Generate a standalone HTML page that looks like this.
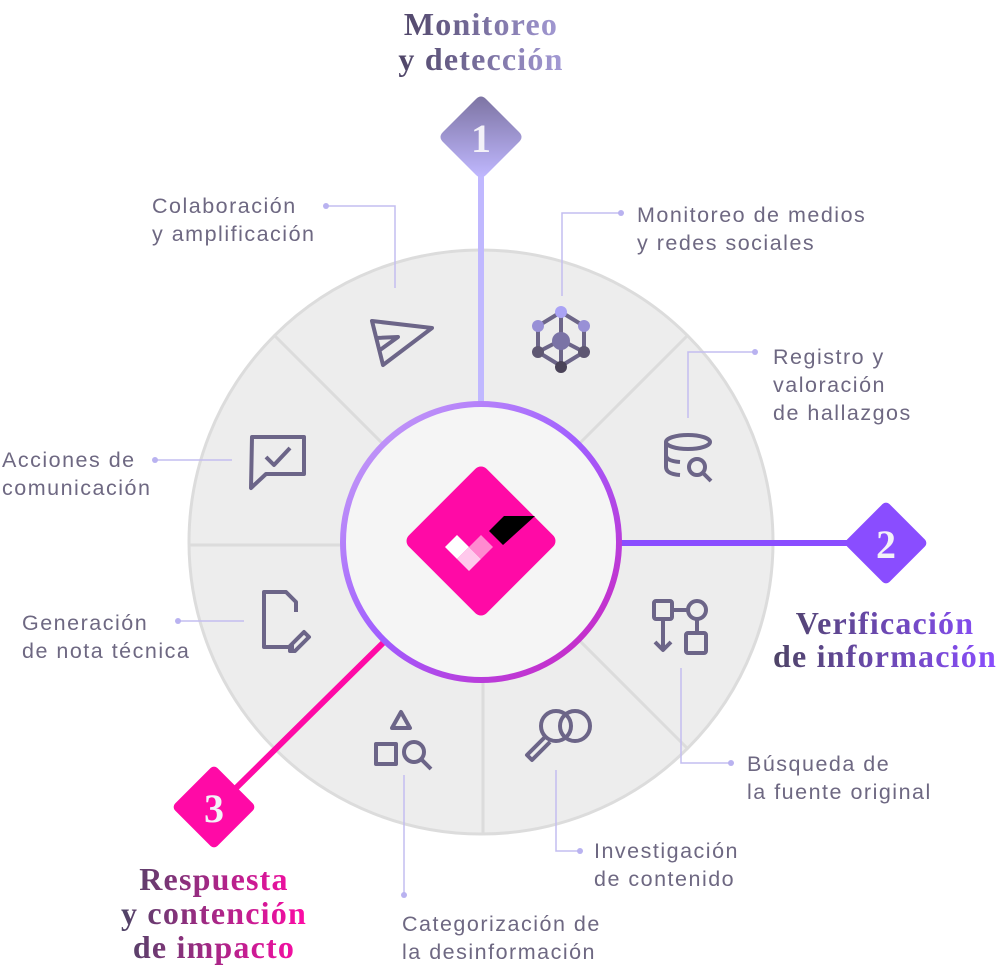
<!DOCTYPE html>
<html><head><meta charset="utf-8"><style>
html,body{margin:0;padding:0;background:#fff;width:1002px;height:966px;overflow:hidden}
svg{display:block}
.l{font-family:"Liberation Sans",sans-serif;font-size:21.5px;letter-spacing:1.5px;fill:#6e6882}
.t{font-family:"Liberation Serif",serif;font-size:32px;font-weight:bold;letter-spacing:1.2px}
</style></head><body>
<svg width="1002" height="966" viewBox="0 0 1002 966" xmlns="http://www.w3.org/2000/svg">
<defs>
<linearGradient id="ring" x1="0" y1="0" x2="1" y2="1">
<stop offset="0" stop-color="#c9a6f5"/><stop offset="0.5" stop-color="#a05cff"/><stop offset="1" stop-color="#d21fb8"/></linearGradient>
<linearGradient id="d1" x1="0" y1="0" x2="0" y2="1">
<stop offset="0" stop-color="#7d74a3"/><stop offset="1" stop-color="#c0b8ff"/></linearGradient>
<linearGradient id="t1" x1="0" y1="0" x2="1" y2="0">
<stop offset="0" stop-color="#4e4466"/><stop offset="1" stop-color="#a49bd6"/></linearGradient>
<linearGradient id="t2" x1="0" y1="0" x2="1" y2="0">
<stop offset="0" stop-color="#4e4466"/><stop offset="1" stop-color="#8a4dff"/></linearGradient>
<linearGradient id="t3" x1="0" y1="0" x2="1" y2="0">
<stop offset="0" stop-color="#4e4466"/><stop offset="1" stop-color="#ff0aa6"/></linearGradient>
</defs>

<circle cx="481" cy="542" r="292" fill="#ededed" stroke="#dcdcdc" stroke-width="3"/>
<g stroke="#dcdcdc" stroke-width="3">
<line x1="274" y1="335" x2="400" y2="461"/>
<line x1="688" y1="335" x2="562" y2="461"/>
<line x1="189" y1="545" x2="345" y2="545"/>
<line x1="483" y1="680" x2="483" y2="834"/>
<line x1="562" y1="623" x2="688" y2="749"/>
</g>

<line x1="481" y1="150" x2="481" y2="405" stroke="#c0b8ff" stroke-width="6"/>
<line x1="615" y1="543" x2="860" y2="543" stroke="#8a4dff" stroke-width="6"/>
<line x1="388" y1="638" x2="232" y2="792" stroke="#ff0aa6" stroke-width="6"/>

<circle cx="481" cy="542" r="138" fill="#f5f5f5" stroke="url(#ring)" stroke-width="6"/>

<g transform="translate(481,541) rotate(45)">
<rect x="-55" y="-55" width="110" height="110" rx="8" fill="#ff0aa6"/>
</g>
<polygon points="445,547 457,535 469,547 457,559" fill="#fff"/>
<polygon points="457,559 469,547 481,559 469,571" fill="#ffc9ec"/>
<polygon points="469,547 481,535 493,547 481,559" fill="#ff8ad0"/>
<polygon points="489,531 504,516 535,516 503,545" fill="#000"/>

<path d="M476,99 Q481,94 486,99 L519,132 Q524,137 519,142 L486,175 Q481,180 476,175 L443,142 Q438,137 443,132 Z" fill="url(#d1)"/>
<text x="481" y="152" text-anchor="middle" font-family="Liberation Serif,serif" font-weight="bold" font-size="40" fill="#f3f1f8">1</text>
<g transform="translate(886,543) rotate(45)"><rect x="-30" y="-30" width="60" height="60" rx="5" fill="#8a4dff"/></g>
<text x="886" y="558" text-anchor="middle" font-family="Liberation Serif,serif" font-weight="bold" font-size="40" fill="#f3f1f8">2</text>
<g transform="translate(214,807) rotate(45)"><rect x="-30" y="-30" width="60" height="60" rx="5" fill="#ff0aa6"/></g>
<text x="214" y="822" text-anchor="middle" font-family="Liberation Serif,serif" font-weight="bold" font-size="40" fill="#f3f1f8">3</text>

<text class="t" fill="url(#t1)" text-anchor="middle"><tspan x="481" y="35">Monitoreo</tspan><tspan x="481" y="70">y detección</tspan></text>
<text class="t" fill="url(#t2)" text-anchor="middle"><tspan x="885" y="634">Verificación</tspan><tspan x="885" y="667">de información</tspan></text>
<text class="t" fill="url(#t3)" text-anchor="middle"><tspan x="214" y="890">Respuesta</tspan><tspan x="214" y="924">y contención</tspan><tspan x="214" y="958">de impacto</tspan></text>

<g fill="none" stroke="#c3bdf0" stroke-width="1.5">
<polyline points="326,206 395,206 395,288"/>
<polyline points="621,213 562,213 562,296"/>
<polyline points="755,352 688,352 688,418"/>
<polyline points="155,460 232,460"/>
<polyline points="178,621 244,621"/>
<polyline points="731,763 681,763 681,668"/>
<polyline points="580,851 556,851 556,770"/>
<polyline points="404,895 404,775"/>
</g>
<g fill="#b9b2f0">
<circle cx="326" cy="206" r="3"/><circle cx="621" cy="213" r="3"/><circle cx="755" cy="352" r="3"/>
<circle cx="155" cy="460" r="3"/><circle cx="178" cy="621" r="3"/><circle cx="731" cy="763" r="3"/>
<circle cx="580" cy="851" r="3"/><circle cx="404" cy="895" r="3"/>
</g>

<text class="l"><tspan x="152" y="213">Colaboración</tspan><tspan x="152" y="241">y amplificación</tspan></text>
<text class="l"><tspan x="637" y="222">Monitoreo de medios</tspan><tspan x="637" y="250">y redes sociales</tspan></text>
<text class="l"><tspan x="773" y="364">Registro y</tspan><tspan x="773" y="392">valoración</tspan><tspan x="773" y="420">de hallazgos</tspan></text>
<text class="l"><tspan x="2" y="467">Acciones de</tspan><tspan x="2" y="495">comunicación</tspan></text>
<text class="l"><tspan x="22" y="630">Generación</tspan><tspan x="22" y="658">de nota técnica</tspan></text>
<text class="l"><tspan x="747" y="771">Búsqueda de</tspan><tspan x="747" y="799">la fuente original</tspan></text>
<text class="l"><tspan x="594" y="858">Investigación</tspan><tspan x="594" y="886">de contenido</tspan></text>
<text class="l"><tspan x="402" y="931">Categorización de</tspan><tspan x="402" y="959">la desinformación</tspan></text>

<g fill="none" stroke="#6c6588" stroke-width="4" stroke-linejoin="round">
<polygon points="372,321 432,328 383,365"/>
<polyline points="376,338 398,337 380,350"/>
<path d="M252,437 h52 v37 h-38 l-15,14 z"/>
<polyline points="266,457 274,465 290,448"/>
<ellipse cx="688" cy="442" rx="22" ry="7"/>
<path d="M666,442 v25 q0,7 14,8 M666,455 q0,6 14,7"/>
<circle cx="697" cy="467" r="8"/>
<line x1="703" y1="473" x2="711" y2="481"/>
<path d="M294,647 h-30 v-55 h22 l10,10 v10"/>
<path d="M290,646 l14,-14 l5,5 l-14,14 h-5 z"/>
<rect x="654" y="601" width="18" height="18" rx="2"/>
<circle cx="697" cy="610" r="9"/>
<line x1="672" y1="610" x2="688" y2="610"/>
<rect x="686" y="633" width="20" height="20" rx="2"/>
<line x1="697" y1="619" x2="697" y2="633"/>
<line x1="663" y1="619" x2="663" y2="650"/>
<polyline points="655,642 663,650 671,642"/>
<circle cx="556" cy="726" r="15"/>
<circle cx="575" cy="726" r="15"/>
<path d="M545,737 l-18,18 l5,5 l18,-18"/>
<polygon points="401,712 410,728 392,728"/>
<rect x="376" y="744" width="20" height="20"/>
<circle cx="414" cy="752" r="10"/>
<line x1="421" y1="759" x2="431" y2="769"/>
</g>
<g stroke="#6c6588" stroke-width="4" fill="none">
<polygon points="561,312 584,326 584,352 561,366 538,352 538,326"/>
<line x1="561" y1="312" x2="561" y2="366"/>
<line x1="538" y1="352" x2="561" y2="340"/><line x1="584" y1="352" x2="561" y2="340"/>
</g>
<g fill="#7a73a6">
<circle cx="561" cy="341" r="9"/><circle cx="561" cy="312" r="6" fill="#aaa3f5"/>
<circle cx="538" cy="326" r="6" fill="#9890d6"/><circle cx="584" cy="326" r="6" fill="#9890d6"/>
<circle cx="538" cy="352" r="6" fill="#5e5772"/><circle cx="584" cy="352" r="6" fill="#5e5772"/>
<circle cx="561" cy="367" r="6" fill="#4a4358"/>
</g>
</svg>
</body></html>
